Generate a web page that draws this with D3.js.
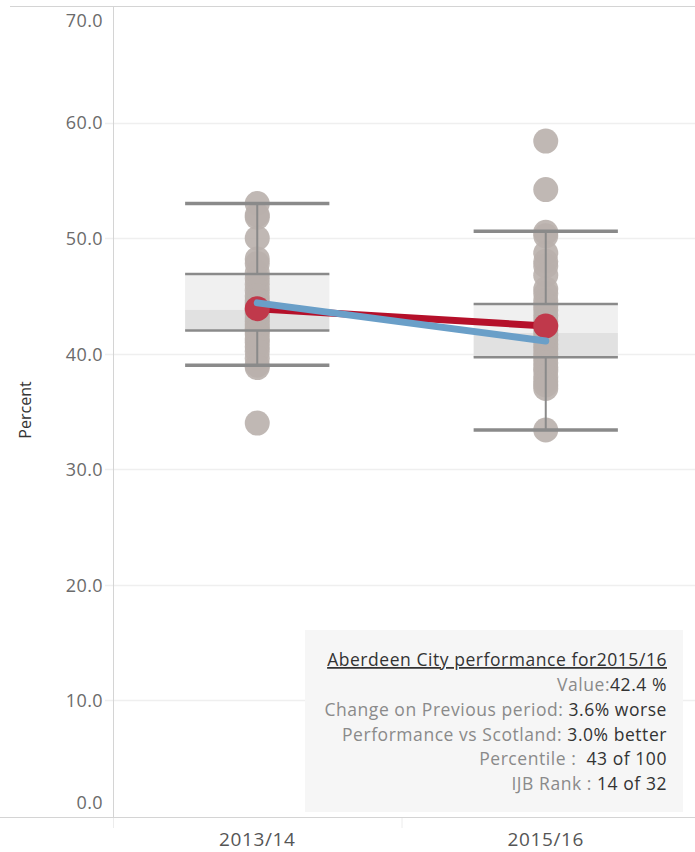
<!DOCTYPE html>
<html>
<head>
<meta charset="utf-8">
<script src="https://cdn.jsdelivr.net/npm/d3@7"></script>
<style>
  body { margin: 0; background: #fff; }
  text { font-family: "Open Sans", "Noto Sans", sans-serif; }
</style>
</head>
<body>
<div id="chart"></div>
<script>
// data
var periods = ['2013/14', '2015/16'];
var values1314 = [53.0, 52.0, 51.8, 50.0, 48.2, 47.8, 47.0, 46.5, 46.0, 45.5, 45.0, 44.6, 44.3, 44.0,
    43.8, 43.6, 43.4, 43.1, 42.8, 42.5, 42.2, 42.0, 41.7, 41.3, 41.0, 40.6, 40.2, 39.6, 39.0, 38.8, 34.0];
var values1516 = [58.4, 54.2, 50.5, 50.2, 48.7, 48.0, 47.6, 46.8, 45.6, 45.2, 44.6, 44.2, 43.8, 43.3,
    42.8, 42.4, 42.0, 41.6, 41.2, 40.8, 40.4, 40.0, 39.6, 39.2, 38.8, 38.5, 38.0, 37.6, 37.3, 37.0, 33.4];
var whiskerLow = [39.0, 33.4];
var boxQ1 = [42.0, 39.7];
var boxMedian = [43.8, 41.8];
var boxQ3 = [46.9, 44.3];
var whiskerHigh = [53.0, 50.6];
var aberdeen = [43.9, 42.4];
var scotland = [44.4, 41.1];
var yTicks = [0, 10, 20, 30, 40, 50, 60, 70];

var tipTitle = 'Aberdeen City performance for2015/16';
var tipLabels = ['Value:', 'Change on Previous period: ', 'Performance vs Scotland: ', 'Percentile :  ', 'IJB Rank : '];
var tipValues = ['42.4 %', '3.6% worse', '3.0% better', '43 of 100', '14 of 32'];

var width = 695;
var height = 852;
var plotLeft = 113, plotRight = 690, plotTop = 7, plotBottom = 816;

var svg = d3.select('#chart')
    .append('svg')
    .attr('width', width)
    .attr('height', height);

var y = d3.scaleLinear().domain([0, 70]).range([plotBottom, plotTop]);
var x = d3.scaleBand().domain(periods).range([plotLeft, plotRight]);

// gridlines
svg.append('g')
    .selectAll('line')
    .data(yTicks.slice(1, -1))
    .enter()
    .append('line')
    .attr('x1', plotLeft - 8)
    .attr('x2', width)
    .attr('y1', d => Math.round(y(d)) + 0.5)
    .attr('y2', d => Math.round(y(d)) + 0.5)
    .attr('stroke', '#efefef')
    .attr('stroke-width', 1.5);

// frame lines
svg.append('line').attr('x1', 10).attr('x2', width).attr('y1', 6.5).attr('y2', 6.5).attr('stroke', '#d4d4d4');
svg.append('line').attr('x1', 0).attr('x2', width).attr('y1', 817.5).attr('y2', 817.5).attr('stroke', '#d4d4d4');
svg.append('line').attr('x1', plotLeft + 0.5).attr('x2', plotLeft + 0.5).attr('y1', 6).attr('y2', 818).attr('stroke', '#d4d4d4');

// y axis
var yAxis = svg.append('g')
    .attr('transform', 'translate(' + (plotLeft - 10) + ',0)')
    .call(d3.axisLeft(y).tickValues(yTicks).tickSize(0).tickPadding(0).tickFormat(d3.format('.1f')));
yAxis.select('.domain').remove();
yAxis.selectAll('text')
    .attr('font-size', 18)
    .attr('fill', '#6b6b6b')
    .attr('font-family', '"Open Sans", sans-serif')
    .attr('letter-spacing', 0.4)
    .attr('dy', d => d == 70 ? '1.1em' : (d == 0 ? '-0.4em' : '0.35em'));

svg.append('text')
    .attr('transform', 'translate(31,410) rotate(-90)')
    .attr('text-anchor', 'middle')
    .attr('font-size', 16)
    .attr('fill', '#333')
    .text('Percent');

// x axis
svg.append('g')
    .selectAll('line')
    .data([plotLeft, x(periods[1])])
    .enter()
    .append('line')
    .attr('x1', d => d + 0.5)
    .attr('x2', d => d + 0.5)
    .attr('y1', 818)
    .attr('y2', 828)
    .attr('stroke', '#ececec');

svg.append('g')
    .selectAll('text')
    .data(periods)
    .enter()
    .append('text')
    .attr('x', d => x(d) + x.bandwidth() / 2)
    .attr('y', 846)
    .attr('text-anchor', 'middle')
    .attr('font-size', 19)
    .attr('letter-spacing', 0.6)
    .attr('fill', '#555')
    .text(d => d);

var boxW = x.bandwidth() / 2;
var idx = [0, 1];
var cx = i => x(periods[i]) + x.bandwidth() / 2;

// box fills
svg.append('g').selectAll('rect').data(idx).enter().append('rect')
    .attr('x', i => cx(i) - boxW / 2)
    .attr('width', boxW)
    .attr('y', i => y(boxQ3[i]))
    .attr('height', i => y(boxMedian[i]) - y(boxQ3[i]))
    .attr('fill', '#f0f0f0');
svg.append('g').selectAll('rect').data(idx).enter().append('rect')
    .attr('x', i => cx(i) - boxW / 2)
    .attr('width', boxW)
    .attr('y', i => y(boxMedian[i]))
    .attr('height', i => y(boxQ1[i]) - y(boxMedian[i]))
    .attr('fill', '#e1e1e1');

// dots
var allValues = [values1314, values1516];
idx.forEach(function(i) {
    svg.append('g')
        .selectAll('circle')
        .data(allValues[i])
        .enter()
        .append('circle')
        .attr('cx', cx(i))
        .attr('cy', d => y(d))
        .attr('r', 12.5)
        .attr('fill', '#b9b0ac')
        .attr('fill-opacity', 0.9);
});

// whisker stems
var grey = '#8a8a8a';
svg.append('g').selectAll('line').data(idx).enter().append('line')
    .attr('x1', i => cx(i)).attr('x2', i => cx(i))
    .attr('y1', i => y(whiskerHigh[i])).attr('y2', i => y(boxQ3[i]))
    .attr('stroke', grey).attr('stroke-width', 2);
svg.append('g').selectAll('line').data(idx).enter().append('line')
    .attr('x1', i => cx(i)).attr('x2', i => cx(i))
    .attr('y1', i => y(boxQ1[i])).attr('y2', i => y(whiskerLow[i]))
    .attr('stroke', grey).attr('stroke-width', 2);

// box edges and caps
[whiskerHigh, boxQ3, boxQ1, whiskerLow].forEach(function(arr, k) {
    svg.append('g').selectAll('line').data(idx).enter().append('line')
        .attr('x1', i => cx(i) - boxW / 2)
        .attr('x2', i => cx(i) + boxW / 2)
        .attr('y1', i => y(arr[i]))
        .attr('y2', i => y(arr[i]))
        .attr('stroke', grey)
        .attr('stroke-width', (k == 0 || k == 3) ? 3.5 : 2.5);
});

// Aberdeen City line
var line = d3.line()
    .x((d, i) => cx(i))
    .y(d => y(d));

svg.append('path')
    .datum(aberdeen)
    .attr('d', line)
    .attr('fill', 'none')
    .attr('stroke', '#b5102a')
    .attr('stroke-width', 7);

svg.append('g').selectAll('circle').data(aberdeen).enter().append('circle')
    .attr('cx', (d, i) => cx(i))
    .attr('cy', d => y(d))
    .attr('r', 12.5)
    .attr('fill', '#c0394b');

// Scotland line
svg.append('path')
    .datum(scotland)
    .attr('d', line)
    .attr('fill', 'none')
    .attr('stroke', '#6a9fc8')
    .attr('stroke-width', 7)
    .attr('stroke-linecap', 'round');

// tooltip box
svg.append('rect')
    .attr('x', 305)
    .attr('y', 630)
    .attr('width', 378)
    .attr('height', 182)
    .attr('fill', '#f6f6f6');

var tipX = 667;
svg.append('text')
    .attr('x', tipX)
    .attr('y', 666)
    .attr('text-anchor', 'end')
    .attr('font-size', 17.5)
    .attr('letter-spacing', 0.55)
    .attr('fill', '#333')
    .attr('text-decoration', 'underline')
    .text(tipTitle);

var tipRows = svg.append('g')
    .selectAll('text')
    .data(tipLabels)
    .enter()
    .append('text')
    .attr('x', tipX)
    .attr('y', (d, i) => 691 + i * 24.8)
    .attr('text-anchor', 'end')
    .attr('font-size', 17.5)
    .attr('letter-spacing', 0.55)
    .attr('xml:space', 'preserve');
tipRows.append('tspan').attr('fill', '#8a8a8a').text(d => d);
tipRows.append('tspan').attr('fill', '#333').text((d, i) => tipValues[i]);
</script>
</body>
</html>
